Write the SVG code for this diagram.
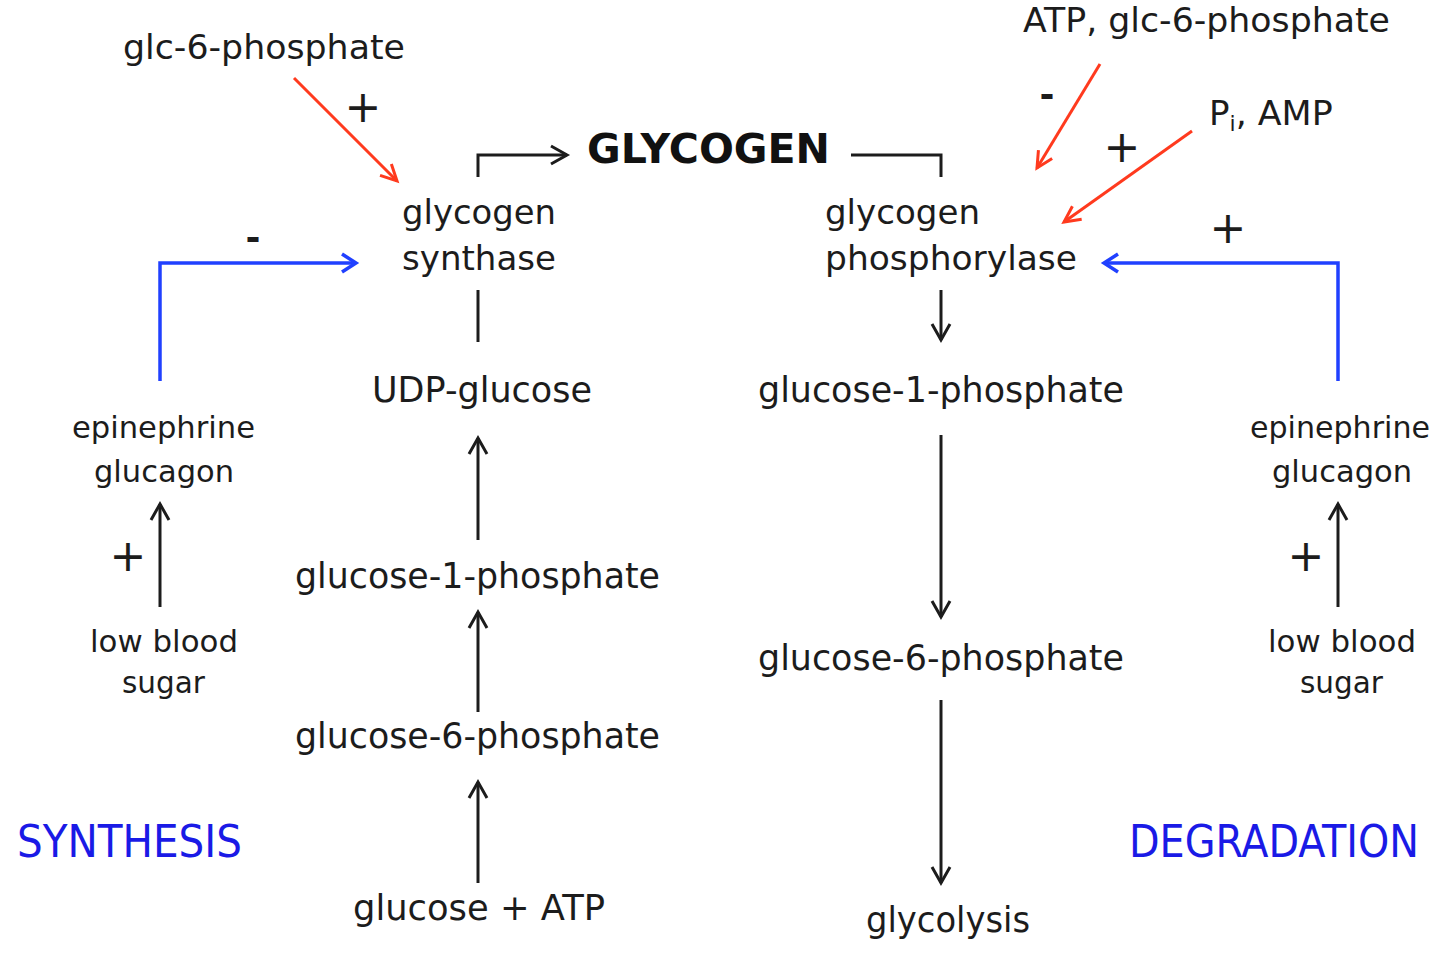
<svg xmlns="http://www.w3.org/2000/svg" width="1440" height="956" viewBox="0 0 1440 956">
<style>
text{font-family:"DejaVu Sans","Liberation Sans",sans-serif;fill:#1c1c1c}
.m{font-size:36px}
.e{font-size:34px}
.s{font-size:30px}
.t{font-family:"DejaVu Sans Condensed","DejaVu Sans",sans-serif;font-size:40px;fill:#1a1ae6}
.b{font-size:41px;font-weight:bold;fill:#111}
.p{font-size:44px}
.h{font-size:36px;font-weight:bold}
.k{stroke:#1c1c1c;stroke-width:3;fill:none}
.r{stroke:#ff3a1e;stroke-width:3;fill:none}
.u{stroke:#2040ff;stroke-width:3.5;fill:none}
</style>
<defs>
<marker id="ak" markerUnits="userSpaceOnUse" viewBox="-20 -12 24 24" markerWidth="24" markerHeight="24" refX="0" refY="0" orient="auto"><path d="M-16,-9 L0,0 L-16,9" fill="none" stroke="#1c1c1c" stroke-width="3"/></marker>
<marker id="ar" markerUnits="userSpaceOnUse" viewBox="-20 -12 24 24" markerWidth="24" markerHeight="24" refX="0" refY="0" orient="auto"><path d="M-16,-8 L0,0 L-16,8" fill="none" stroke="#ff3a1e" stroke-width="3"/></marker>
<marker id="au" markerUnits="userSpaceOnUse" viewBox="-20 -12 24 24" markerWidth="24" markerHeight="24" refX="0" refY="0" orient="auto"><path d="M-14,-9 L0,0 L-14,9" fill="none" stroke="#2040ff" stroke-width="3.5"/></marker>
</defs>
<g id="connectors">
<path class="k" d="M478,177 V155 H567" marker-end="url(#ak)"/>
<path class="k" d="M851,155 H941 V177"/>
<line class="r" x1="294" y1="78" x2="397" y2="181" marker-end="url(#ar)"/>
<line class="r" x1="1100" y1="64" x2="1037" y2="168" marker-end="url(#ar)"/>
<line class="r" x1="1192" y1="131" x2="1064" y2="222" marker-end="url(#ar)"/>
<path class="u" d="M160,381 V263 H356" marker-end="url(#au)"/>
<path class="u" d="M1338,381 V263 H1104" marker-end="url(#au)"/>
<line class="k" x1="478" y1="290" x2="478" y2="342"/>
<line class="k" x1="941" y1="290" x2="941" y2="340" marker-end="url(#ak)"/>
<line class="k" x1="478" y1="540" x2="478" y2="438" marker-end="url(#ak)"/>
<line class="k" x1="941" y1="435" x2="941" y2="617" marker-end="url(#ak)"/>
<line class="k" x1="478" y1="712" x2="478" y2="612" marker-end="url(#ak)"/>
<line class="k" x1="478" y1="883" x2="478" y2="782" marker-end="url(#ak)"/>
<line class="k" x1="941" y1="700" x2="941" y2="883" marker-end="url(#ak)"/>
<line class="k" x1="160" y1="607" x2="160" y2="504" marker-end="url(#ak)"/>
<line class="k" x1="1338" y1="607" x2="1338" y2="504" marker-end="url(#ak)"/>
</g>
<g id="glycogen"><text class="b" x="587" y="163" textLength="243" lengthAdjust="spacingAndGlyphs">GLYCOGEN</text></g>
<g id="glc6p-activator"><text class="e" x="123" y="59" textLength="282" lengthAdjust="spacingAndGlyphs">glc-6-phosphate</text></g>
<g id="atp-inhibitor"><text class="e" x="1023" y="32" textLength="367" lengthAdjust="spacingAndGlyphs">ATP, glc-6-phosphate</text></g>
<g id="pi-amp"><text class="e" x="1209" y="125">P<tspan font-size="22" dy="6">i</tspan><tspan dy="-6" textLength="97" lengthAdjust="spacingAndGlyphs">, AMP</tspan></text></g>
<g id="synthase"><text class="e" x="402" y="224" textLength="154" lengthAdjust="spacingAndGlyphs">glycogen</text><text class="e" x="402" y="270" textLength="154" lengthAdjust="spacingAndGlyphs">synthase</text></g>
<g id="phosphorylase"><text class="e" x="825" y="224" textLength="155" lengthAdjust="spacingAndGlyphs">glycogen</text><text class="e" x="825" y="270" textLength="252" lengthAdjust="spacingAndGlyphs">phosphorylase</text></g>
<g id="udp-glucose"><text class="m" x="372" y="402" textLength="220" lengthAdjust="spacingAndGlyphs">UDP-glucose</text></g>
<g id="g1p-left"><text class="m" x="295" y="588" textLength="365" lengthAdjust="spacingAndGlyphs">glucose-1-phosphate</text></g>
<g id="g6p-left"><text class="m" x="295" y="748" textLength="365" lengthAdjust="spacingAndGlyphs">glucose-6-phosphate</text></g>
<g id="glucose-atp"><text class="m" x="353" y="920" textLength="252" lengthAdjust="spacingAndGlyphs">glucose + ATP</text></g>
<g id="g1p-right"><text class="m" x="758" y="402" textLength="366" lengthAdjust="spacingAndGlyphs">glucose-1-phosphate</text></g>
<g id="g6p-right"><text class="m" x="758" y="670" textLength="366" lengthAdjust="spacingAndGlyphs">glucose-6-phosphate</text></g>
<g id="glycolysis"><text class="m" x="866" y="932" textLength="164" lengthAdjust="spacingAndGlyphs">glycolysis</text></g>
<g id="hormones-left"><text class="s" x="72" y="438" textLength="183" lengthAdjust="spacingAndGlyphs">epinephrine</text><text class="s" x="94" y="482" textLength="140" lengthAdjust="spacingAndGlyphs">glucagon</text></g>
<g id="hormones-right"><text class="s" x="1250" y="438" textLength="180" lengthAdjust="spacingAndGlyphs">epinephrine</text><text class="s" x="1272" y="482" textLength="140" lengthAdjust="spacingAndGlyphs">glucagon</text></g>
<g id="lowsugar-left"><text class="s" x="90" y="652" textLength="148" lengthAdjust="spacingAndGlyphs">low blood</text><text class="s" x="122" y="693" textLength="83" lengthAdjust="spacingAndGlyphs">sugar</text></g>
<g id="lowsugar-right"><text class="s" x="1268" y="652" textLength="148" lengthAdjust="spacingAndGlyphs">low blood</text><text class="s" x="1300" y="693" textLength="83" lengthAdjust="spacingAndGlyphs">sugar</text></g>
<g id="synthesis-label" transform="translate(17,857) scale(1,1.1)"><text class="t" x="0" y="0" textLength="225" lengthAdjust="spacingAndGlyphs">SYNTHESIS</text></g>
<g id="degradation-label" transform="translate(1129,857) scale(1,1.1)"><text class="t" x="0" y="0" textLength="290" lengthAdjust="spacingAndGlyphs">DEGRADATION</text></g>
<g id="signs" text-anchor="middle">
<text class="p" x="363" y="122">+</text>
<text class="p" x="1122" y="162">+</text>
<text class="p" x="1228" y="243">+</text>
<text class="p" x="128" y="571">+</text>
<text class="p" x="1306" y="571">+</text>
<text class="h" x="253" y="250">-</text>
<text class="h" x="1047" y="107">-</text>
</g>
</svg>
